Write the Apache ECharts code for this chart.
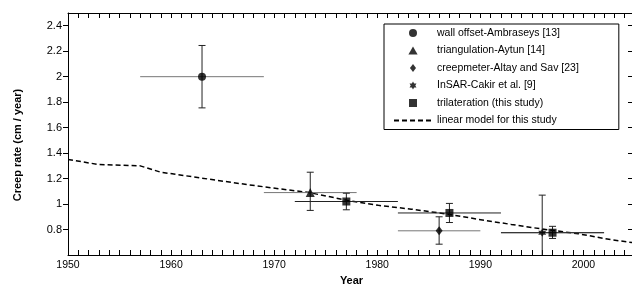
<!DOCTYPE html>
<html>
<head>
<meta charset="utf-8">
<script src="https://cdn.jsdelivr.net/npm/echarts@6/dist/echarts.min.js"></script>
<style>
  html, body { margin: 0; padding: 0; background: #fff; }
  #main { width: 632px; height: 287px; }
</style>
</head>
<body>
<div id="main"></div>
<script>
// each row: [year, rate, yearFrom, yearTo, rateLow, rateHigh]
var wallOffset = [[1963, 2.0, 1957, 1969, 1.755, 2.245]];
var triangulation = [[1973.5, 1.09, 1969, 1978, 0.95, 1.25]];
var creepmeter = [[1986, 0.79, 1982, 1990, 0.685, 0.9]];
var insar = [[1996, 0.775, 1992, 2002, 0.47, 1.07]];
var trilateration = [
    [1977, 1.02, 1972, 1982, 0.955, 1.085],
    [1987, 0.93, 1982, 1992, 0.855, 1.005],
    [1997, 0.775, 1992, 2002, 0.73, 0.825]
];
// linear model for this study (traced)
var modelYears = [1950, 1953, 1957, 1959, 1967.6, 1973.4, 1977.2, 1980.1, 1983.3, 1986.9, 1989.8, 1993, 1995.9, 1999.5, 2002.7, 2005];
var modelRates = [1.35, 1.31, 1.30, 1.25, 1.15, 1.09, 1.027, 0.99, 0.96, 0.92, 0.88, 0.84, 0.805, 0.767, 0.72, 0.695];

var names = ['wall offset-Ambraseys [13]', 'triangulation-Aytun [14]', 'creepmeter-Altay and Sav [23]', 'InSAR-Cakir et al. [9]', 'trilateration (this study)', 'linear model for this study'];
var starPath = 'path://M100,0 L128.9,50 L186.6,50 L157.7,100 L186.6,150 L128.9,150 L100,200 L71.1,150 L13.4,150 L42.3,100 L13.4,50 L71.1,50 Z';
var triPath = 'path://M50,0 L100,87 L0,87 Z';
var diaPath = 'path://M38,0 L76,50 L38,100 L0,50 Z';
var boxPath = 'path://M0,0 L10,0 L10,10 L0,10 Z';

var font = 'Liberation Sans, Arial, Helvetica, sans-serif';

function errBars(hColor) {
    return function (params, api) {
        var x = api.value(0), y = api.value(1);
        var h0 = api.coord([api.value(2), y]), h1 = api.coord([api.value(3), y]);
        var v0 = api.coord([x, api.value(4)]), v1 = api.coord([x, api.value(5)]);
        var c = 3.5;
        var vs = { stroke: '#222', lineWidth: 1 };
        return {
            type: 'group',
            children: [
                { type: 'line', shape: { x1: h0[0], y1: h0[1], x2: h1[0], y2: h1[1] }, style: { stroke: hColor, lineWidth: 1 } },
                { type: 'line', shape: { x1: v0[0], y1: v0[1], x2: v1[0], y2: v1[1] }, style: vs },
                { type: 'line', shape: { x1: v0[0] - c, y1: v0[1], x2: v0[0] + c, y2: v0[1] }, style: vs },
                { type: 'line', shape: { x1: v1[0] - c, y1: v1[1], x2: v1[0] + c, y2: v1[1] }, style: vs }
            ]
        };
    };
}

function errSeries(data, hColor) {
    return { type: 'custom', name: 'err', data: data, clip: true, z: 2, silent: true,
        renderItem: errBars(hColor), encode: { x: 0, y: 1 } };
}

function pts(name, data, symbol, size) {
    return { type: 'scatter', name: name, data: data.map(function (d) { return [d[0], d[1]]; }),
        symbol: symbol, symbolSize: size, itemStyle: { color: '#000' }, z: 4 };
}

var xCommon = {
    type: 'value', min: 1950, max: 2005, interval: 5,
    axisLine: { lineStyle: { color: '#000', width: 1 } },
    axisTick: { inside: true, length: 5, lineStyle: { color: '#000' } },
    minorTick: { show: true, splitNumber: 5, length: 5, lineStyle: { color: '#000' } },
    splitLine: { show: false }
};

var yCommon = {
    type: 'value', min: 0.6, max: 2.5, interval: 0.2,
    axisLine: { show: true, lineStyle: { color: '#000', width: 1 } },
    splitLine: { show: false }
};

var myecharts = echarts.init(document.getElementById('main'));
var option = {
    animation: false,
    grid: { left: 68, right: -3, top: 13, bottom: 32, outerBoundsMode: 'none' },
    legend: {
        left: 384, top: 24, orient: 'vertical',
        itemWidth: 38, itemHeight: 8, itemGap: 5.5,
        padding: [3, 40, 3, 9],
        borderColor: '#000', borderWidth: 1, backgroundColor: '#fff',
        textStyle: { fontSize: 10.5, color: '#000', fontFamily: font, lineHeight: 12 },
        data: [
            { name: names[0], icon: 'circle' },
            { name: names[1], icon: triPath },
            { name: names[2], icon: diaPath },
            { name: names[3], icon: starPath },
            { name: names[4], icon: boxPath },
            { name: names[5], itemStyle: { opacity: 0 } }
        ]
    },
    xAxis: [
        Object.assign({}, xCommon, {
            position: 'bottom',
            name: 'Year', nameLocation: 'middle', nameGap: 19,
            nameTextStyle: { fontWeight: 'bold', fontSize: 11, color: '#000', fontFamily: font },
            axisLabel: {
                color: '#000', fontSize: 10.5, fontFamily: font, margin: 5,
                formatter: function (v) { return v % 10 === 0 ? String(v) : ''; }
            }
        }),
        Object.assign({}, xCommon, { position: 'top', axisLabel: { show: false } })
    ],
    yAxis: [
        Object.assign({}, yCommon, {
            position: 'left',
            name: 'Creep rate (cm / year)', nameLocation: 'middle', nameGap: 45,
            nameTextStyle: { fontWeight: 'bold', fontSize: 11, color: '#000', fontFamily: font, padding: [0, 22, 0, 0] },
            axisTick: { inside: false, length: 5, lineStyle: { color: '#000' } },
            axisLabel: { color: '#000', fontSize: 11, fontFamily: font, margin: 6, showMinLabel: false, showMaxLabel: false }
        }),
        Object.assign({}, yCommon, {
            position: 'right',
            axisTick: { inside: true, length: 7, lineStyle: { color: '#000' } },
            axisLabel: { show: false }
        })
    ],
    series: [
        {
            type: 'line', name: names[5],
            data: modelYears.map(function (y, i) { return [y, modelRates[i]]; }),
            symbol: 'none', showSymbol: false, z: 1,
            lineStyle: { color: '#000', width: 1.5, type: [5, 3] }, itemStyle: { color: '#000' }
        },
        errSeries(wallOffset, '#777'),
        errSeries(triangulation, '#777'),
        errSeries(creepmeter, '#777'),
        errSeries(insar, '#777'),
        errSeries(trilateration, '#222'),
        pts(names[0], wallOffset, 'circle', 8),
        pts(names[1], triangulation, 'triangle', 9),
        pts(names[2], creepmeter, 'diamond', [7, 9]),
        pts(names[3], insar, starPath, 8),
        pts(names[4], trilateration, 'rect', 8)
    ]
};
myecharts.setOption(option);
</script>
</body>
</html>
